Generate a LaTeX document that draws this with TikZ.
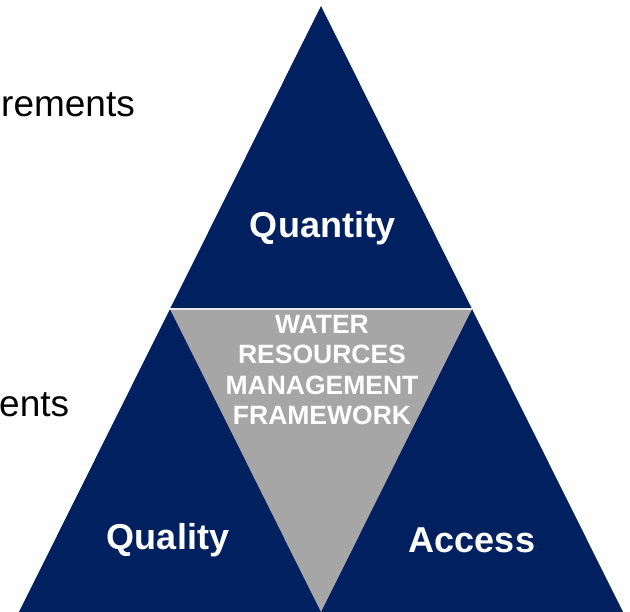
\documentclass[tikz,border=0pt]{standalone}
\usepackage{fontspec}
\setmainfont{Liberation Sans}
\definecolor{navy}{RGB}{0,32,96}
\definecolor{midgray}{RGB}{166,166,166}
\tikzset{
  label/.style={white,font=\bfseries\fontsize{36}{40}\selectfont},
  side/.style={black,anchor=base west,inner sep=0,font=\fontsize{37}{40}\selectfont}
}
\begin{document}
\begin{tikzpicture}[x=1pt,y=-1pt]
\useasboundingbox (0,0) rectangle (630,612);
\coordinate (top) at (321,6);
\coordinate (bl) at (19,612);
\coordinate (br) at (623,612);
\coordinate (ml) at (170,309);
\coordinate (mr) at (472,309);
\coordinate (mb) at (321,612);
\fill[navy] (top) -- (br) -- (bl) -- cycle;
\fill[midgray] (ml) -- (mr) -- (mb) -- cycle;
\draw[white!75!midgray,line width=1.2] (ml) -- (mr);
\node[label] (quantity) at (323,228) {Quantity};
\node[label] (quality) at (168,540) {Quality};
\node[label] (access) at (472,540) {Access};
\node[white,align=center,font=\bfseries\fontsize{26.5}{30.5}\selectfont] (frame) at (322,370)
  {WATER\\RESOURCES\\MANAGEMENT\\FRAMEWORK};
\node[side] (req1) at (1,117) {rements};
\node[side] (req2) at (-1,417) {ents};
\end{tikzpicture}
\end{document}
